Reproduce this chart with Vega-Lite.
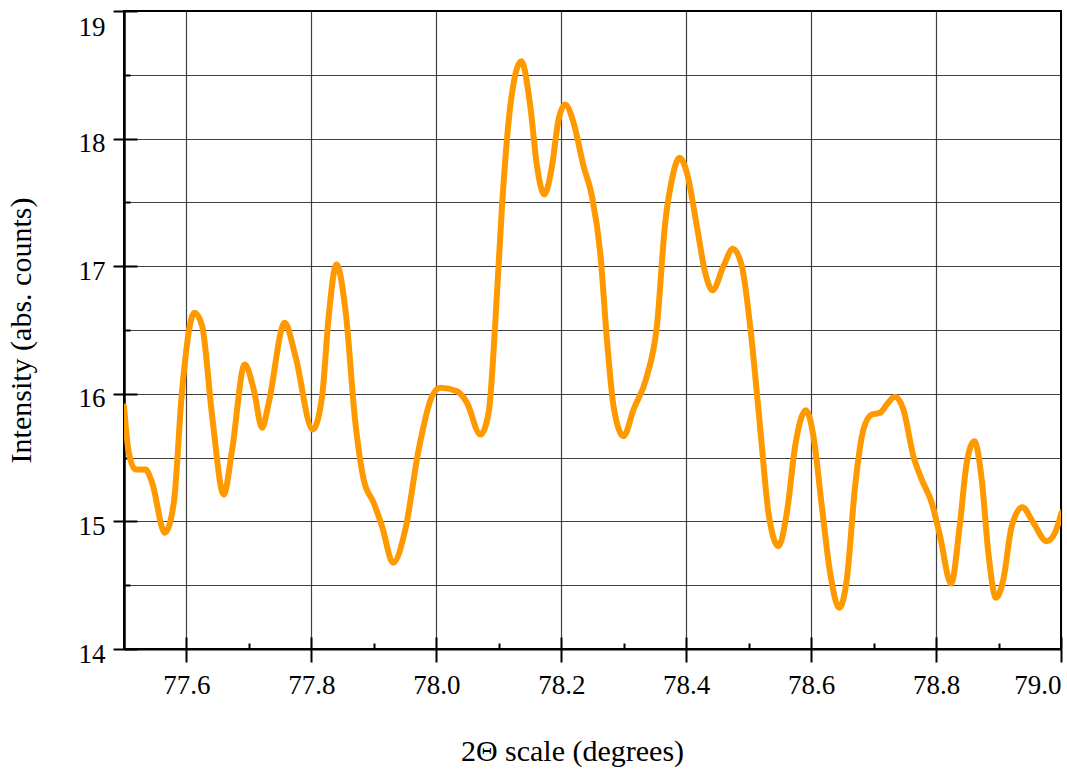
{
  "$schema": "https://vega.github.io/schema/vega-lite/v6.json",
  "width": 937,
  "height": 638,
  "autosize": {"type": "none"},
  "padding": {"left": 124, "top": 11, "right": 6, "bottom": 124},
  "background": "white",
  "config": {
    "view": {"stroke": "black", "strokeWidth": 2},
    "axis": {"labelFont": "Liberation Serif", "titleFont": "Liberation Serif", "labelColor": "black", "titleColor": "black", "titleFontWeight": "normal", "domainColor": "black", "tickColor": "black"}
  },
  "data": {"values": [
    {"t": 77.5, "i": 15.90}, {"t": 77.5077, "i": 15.538}, {"t": 77.5184, "i": 15.407}, {"t": 77.5344, "i": 15.407},
    {"t": 77.5451, "i": 15.302}, {"t": 77.5653, "i": 14.911}, {"t": 77.5797, "i": 15.146}, {"t": 77.5931, "i": 16.034},
    {"t": 77.6128, "i": 16.635}, {"t": 77.6251, "i": 16.530}, {"t": 77.6411, "i": 15.824}, {"t": 77.6597, "i": 15.211},
    {"t": 77.6731, "i": 15.563}, {"t": 77.6933, "i": 16.230}, {"t": 77.7077, "i": 16.034}, {"t": 77.7211, "i": 15.734},
    {"t": 77.7317, "i": 15.929}, {"t": 77.7573, "i": 16.556}, {"t": 77.7744, "i": 16.295}, {"t": 77.8021, "i": 15.720},
    {"t": 77.8171, "i": 15.981}, {"t": 77.8277, "i": 16.608}, {"t": 77.84, "i": 17.013}, {"t": 77.8544, "i": 16.661},
    {"t": 77.8704, "i": 15.773}, {"t": 77.8837, "i": 15.328}, {"t": 77.8997, "i": 15.146}, {"t": 77.9131, "i": 14.962},
    {"t": 77.9307, "i": 14.676}, {"t": 77.9504, "i": 14.937}, {"t": 77.9717, "i": 15.563}, {"t": 77.9931, "i": 15.981},
    {"t": 78.0064, "i": 16.047}, {"t": 78.0331, "i": 16.020}, {"t": 78.0491, "i": 15.929}, {"t": 78.0704, "i": 15.681},
    {"t": 78.0837, "i": 15.851}, {"t": 78.0944, "i": 16.556}, {"t": 78.1051, "i": 17.470}, {"t": 78.1184, "i": 18.254},
    {"t": 78.136, "i": 18.607}, {"t": 78.1504, "i": 18.254}, {"t": 78.1611, "i": 17.784}, {"t": 78.1728, "i": 17.562},
    {"t": 78.1851, "i": 17.784}, {"t": 78.1957, "i": 18.150}, {"t": 78.2064, "i": 18.267}, {"t": 78.2197, "i": 18.124},
    {"t": 78.2357, "i": 17.784}, {"t": 78.2491, "i": 17.549}, {"t": 78.2624, "i": 17.105}, {"t": 78.2731, "i": 16.426},
    {"t": 78.2837, "i": 15.903}, {"t": 78.2997, "i": 15.668}, {"t": 78.3157, "i": 15.877}, {"t": 78.3371, "i": 16.138},
    {"t": 78.3531, "i": 16.530}, {"t": 78.3664, "i": 17.340}, {"t": 78.3771, "i": 17.679}, {"t": 78.3893, "i": 17.850},
    {"t": 78.4011, "i": 17.732}, {"t": 78.4171, "i": 17.313}, {"t": 78.4304, "i": 16.948}, {"t": 78.4421, "i": 16.812},
    {"t": 78.4597, "i": 17.000}, {"t": 78.4747, "i": 17.136}, {"t": 78.4891, "i": 17.000}, {"t": 78.5024, "i": 16.530},
    {"t": 78.5131, "i": 16.008}, {"t": 78.5211, "i": 15.589}, {"t": 78.5317, "i": 15.067}, {"t": 78.5477, "i": 14.806},
    {"t": 78.5611, "i": 15.067}, {"t": 78.5744, "i": 15.589}, {"t": 78.5915, "i": 15.871}, {"t": 78.6037, "i": 15.668},
    {"t": 78.6171, "i": 15.119}, {"t": 78.6304, "i": 14.597}, {"t": 78.6448, "i": 14.323}, {"t": 78.6571, "i": 14.545},
    {"t": 78.6704, "i": 15.276}, {"t": 78.6837, "i": 15.720}, {"t": 78.6971, "i": 15.838}, {"t": 78.7104, "i": 15.851},
    {"t": 78.7211, "i": 15.916}, {"t": 78.7344, "i": 15.976}, {"t": 78.7477, "i": 15.877}, {"t": 78.7637, "i": 15.511},
    {"t": 78.7771, "i": 15.328}, {"t": 78.7931, "i": 15.146}, {"t": 78.8064, "i": 14.884}, {"t": 78.824, "i": 14.513},
    {"t": 78.8384, "i": 14.989}, {"t": 78.8491, "i": 15.459}, {"t": 78.8613, "i": 15.629}, {"t": 78.8731, "i": 15.328},
    {"t": 78.8837, "i": 14.754}, {"t": 78.896, "i": 14.401}, {"t": 78.9077, "i": 14.545}, {"t": 78.9211, "i": 14.962},
    {"t": 78.9381, "i": 15.111}, {"t": 78.9557, "i": 14.989}, {"t": 78.9771, "i": 14.845}, {"t": 78.9904, "i": 14.911},
    {"t": 79.001, "i": 15.072}
  ]},
  "layer": [
    {
      "mark": {"type": "line", "color": "#FF9900", "strokeWidth": 6, "interpolate": "monotone", "clip": true, "strokeCap": "round", "strokeJoin": "round"},
      "encoding": {
        "x": {"field": "t", "type": "quantitative", "scale": {"domain": [77.5, 79.0], "nice": false, "zero": false},
          "axis": {"orient": "bottom", "values": [77.6, 77.8, 78.0, 78.2, 78.4, 78.6, 78.8, 79.0], "format": ".1f",
            "title": "2Θ scale (degrees)", "titleFontSize": 30, "titleX": 448, "titleY": 111, "titleBaseline": "alphabetic", "titleAnchor": "start", "titleAlign": "center",
            "labelFontSize": 27, "labelPadding": 10, "tickSize": 13, "tickWidth": 2, "domainWidth": 2,
            "grid": true, "gridColor": "#000", "gridOpacity": 0.75, "gridWidth": 1.2, "labelFlush": 2}},
        "y": {"field": "i", "type": "quantitative", "scale": {"domain": [14, 19], "nice": false, "zero": false},
          "axis": {"orient": "left", "values": [14, 14.5, 15, 15.5, 16, 16.5, 17, 17.5, 18, 18.5, 19],
            "labelExpr": "datum.value % 1 == 0 ? format(datum.value, 'd') : ''",
            "title": "Intensity (abs. counts)", "titleFontSize": 30, "titlePadding": 42,
            "labelFontSize": 27, "labelPadding": 8,
            "labelOffset": {"condition": {"test": "datum.value == 19", "value": 16}, "value": 5},
            "tickSize": {"condition": {"test": "datum.value % 1 == 0", "value": 11}, "value": 0},
            "tickWidth": 2, "domainWidth": 2.5,
            "grid": true, "gridColor": "#000", "gridOpacity": 0.75, "gridWidth": 1.2, "labelFlush": false}}
      }
    },
    {
      "mark": {"type": "line", "strokeOpacity": 0, "interpolate": "monotone"},
      "encoding": {
        "x": {"field": "t", "type": "quantitative",
          "axis": {"orient": "bottom", "values": [77.6, 77.7, 77.8, 77.9, 78.0, 78.1, 78.2, 78.3, 78.4, 78.5, 78.6, 78.7, 78.8, 78.9, 79.0],
            "labels": false, "title": null, "domain": false, "grid": false,
            "tickSize": {"condition": {"test": "round(datum.value * 10) % 2 == 0", "value": -12}, "value": -6}, "tickWidth": 2}},
        "y": {"field": "i", "type": "quantitative",
          "axis": {"orient": "left", "values": [14, 14.5, 15, 15.5, 16, 16.5, 17, 17.5, 18, 18.5, 19],
            "labels": false, "title": null, "domain": false, "grid": false,
            "tickSize": {"condition": {"test": "datum.value % 1 == 0", "value": -13}, "value": -6}, "tickWidth": 2}}
      }
    }
  ],
  "resolve": {"axis": {"x": "independent", "y": "independent"}}
}
